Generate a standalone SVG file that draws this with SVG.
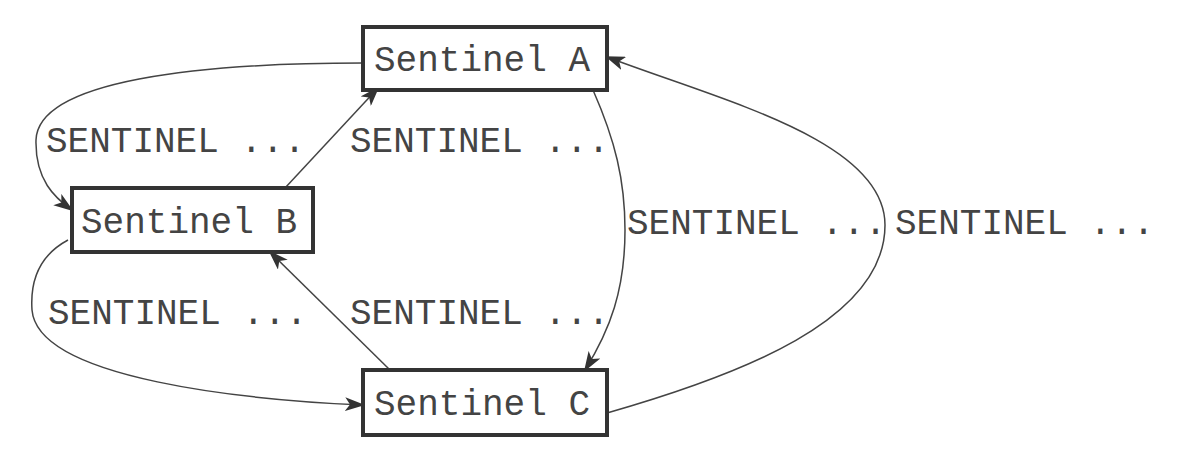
<svg xmlns="http://www.w3.org/2000/svg" width="1178" height="462" viewBox="0 0 1178 462">
<style>
.box{fill:#fff;stroke:#333;stroke-width:4}
.name{font-family:"Nimbus Mono PS","Courier New","Liberation Mono",monospace;font-size:36px;fill:#444}
.lbl{font-family:"Nimbus Mono PS","Courier New","Liberation Mono",monospace;font-size:36px;fill:#444}
.edge{fill:none;stroke:#444;stroke-width:1.5;marker-end:url(#ah)}
</style>
<defs>
<marker id="ah" viewBox="0 0 20 14" refX="18" refY="7" markerWidth="20" markerHeight="14" markerUnits="userSpaceOnUse" orient="auto">
<path d="M0,0 L20,7 L0,14 L5,7 Z" fill="#333"/>
</marker>
</defs>
<rect width="1178" height="462" fill="#fff"/>
<g id="connectors">
<path class="edge" d="M363,63 C200,63 38,80 36,140 C35,180 55,198 72,210"/>
<path class="edge" d="M285,188 L378,88"/>
<path class="edge" d="M593,90 C615,140 625,180 625,230 C625,290 610,330 585,370"/>
<path class="edge" d="M607,413 C740,375 885,320 885,225 C885,140 720,100 607,57"/>
<path class="edge" d="M68,240 C40,255 30,280 32,310 C38,380 250,400 363,405"/>
<path class="edge" d="M390,370 L270,252"/>
</g>
<g id="labels">
<text class="lbl" x="46" y="152">SENTINEL ...</text>
<text class="lbl" x="350" y="152">SENTINEL ...</text>
<text class="lbl" x="627" y="234">SENTINEL ...</text>
<text class="lbl" x="895" y="234">SENTINEL ...</text>
<text class="lbl" x="48" y="324">SENTINEL ...</text>
<text class="lbl" x="350" y="324">SENTINEL ...</text>
</g>
<g id="nodeA">
<rect class="box" x="363" y="27" width="244" height="63"/>
<text class="name" x="374" y="71">Sentinel A</text>
</g>
<g id="nodeB">
<rect class="box" x="72" y="188" width="241" height="64"/>
<text class="name" x="81" y="233">Sentinel B</text>
</g>
<g id="nodeC">
<rect class="box" x="363" y="370" width="244" height="65"/>
<text class="name" x="374" y="415">Sentinel C</text>
</g>
</svg>
